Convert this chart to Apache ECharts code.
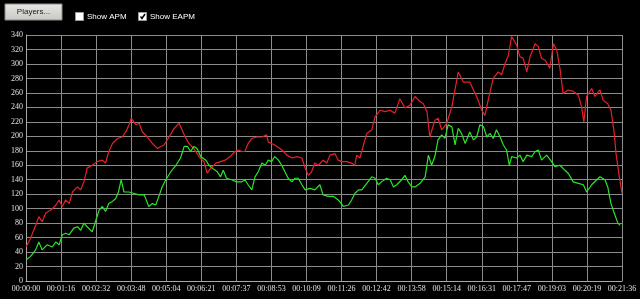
<!DOCTYPE html>
<html>
<head>
<meta charset="utf-8">
<script src="https://cdn.jsdelivr.net/npm/echarts@6/dist/echarts.min.js"></script>
<style>
html,body{margin:0;padding:0;background:#000;}
#chart{width:640px;height:299px;}
</style>
</head>
<body>
<div id="chart"></div>
<script>
// Tick labels of the time axis (17 equal intervals over 1296 s)
var timeLabels = ['00:00:00','00:01:16','00:02:32','00:03:48','00:05:04','00:06:21','00:07:37','00:08:53','00:10:09','00:11:26','00:12:42','00:13:58','00:15:14','00:16:31','00:17:47','00:19:03','00:20:19','00:21:36'];
var totalSeconds = 1296;

// Red series (APM): time in seconds and value
var apmTimes = [0,10,21,28,35,43,54,65,72,79,86,94,101,112,119,126,133,144,155,166,173,180,188,199,209,217,224,229,239,246,253,264,275,286,293,300,311,322,333,344,354,365,376,387,394,402,413,423,433,444,454,462,469,476,483,491,502,513,523,527,534,541,552,560,567,578,589,600,607,614,621,628,636,646,654,661,672,679,687,697,708,715,719,726,733,741,752,759,770,781,792,802,813,824,835,846,857,864,872,878,889,896,904,915,926,940,951,965,973,980,991,998,1005,1016,1027,1034,1042,1049,1056,1067,1074,1081,1089,1096,1107,1114,1121,1129,1139,1147,1154,1161,1168,1179,1190,1201,1208,1213,1219,1230,1237,1248,1255,1265,1272,1279,1283,1290,1296];
var apmValues = [47,59,77,89,82,94,98,105,112,103,112,107,123,130,126,137,156,160,165,167,163,179,190,197,199,206,216,225,216,218,206,199,190,183,186,188,199,211,218,202,190,183,172,165,149,156,163,165,167,172,179,181,179,179,190,197,199,199,202,192,190,188,183,179,174,170,172,170,156,146,151,163,160,167,163,174,176,167,165,165,163,160,174,170,186,204,209,227,236,234,236,232,252,239,243,255,248,245,234,199,222,225,209,218,241,289,275,275,264,255,236,229,250,280,289,285,301,312,338,326,310,308,289,310,328,324,308,305,294,328,319,294,259,264,262,257,241,220,255,266,255,264,250,245,236,205,176,145,121];

// Green series (EAPM): time in seconds and value
var eapmTimes = [0,10,21,28,35,46,57,65,72,79,86,94,104,112,119,126,133,144,152,159,166,173,180,188,195,201,207,213,224,235,246,257,267,275,282,289,296,304,315,326,336,344,351,358,365,372,380,391,398,405,416,423,429,436,447,458,469,476,483,491,498,505,513,520,527,534,541,549,556,563,570,578,585,592,600,607,618,628,639,646,657,668,679,690,701,708,715,723,730,741,752,759,766,773,784,792,799,806,817,824,831,839,846,857,868,875,882,889,896,904,911,918,926,933,940,947,955,965,973,980,987,995,1002,1009,1016,1023,1031,1038,1045,1051,1056,1067,1074,1081,1089,1100,1107,1114,1121,1132,1143,1150,1161,1172,1179,1190,1201,1212,1219,1230,1241,1248,1259,1265,1272,1279,1287,1292];
var eapmValues = [29,34,43,54,43,50,47,54,50,64,66,64,73,75,70,80,75,68,84,98,103,96,107,110,114,123,140,123,123,121,119,119,103,107,105,117,130,140,151,160,170,186,186,179,186,183,172,167,160,156,151,144,153,142,140,137,137,140,133,126,144,151,163,160,167,165,172,167,160,151,142,137,142,142,133,126,128,126,133,119,117,117,112,103,105,112,121,126,126,135,144,142,133,137,142,140,130,133,140,146,137,130,130,135,144,174,160,172,195,202,197,216,213,188,211,204,190,206,195,199,216,213,199,204,197,209,199,188,181,160,172,170,174,165,174,172,179,181,167,174,165,158,160,153,149,137,135,133,123,133,140,144,140,130,107,94,80,77];

// Y axis scale
var yMin = 0, yMax = 340, yStep = 20;

function pairs(t, v) {
  var out = [];
  for (var i = 0; i < t.length; i++) out.push([t[i], v[i]]);
  return out;
}

var step = totalSeconds / (timeLabels.length - 1);
var chart = echarts.init(document.getElementById('chart'), null, {renderer: 'canvas'});
var labelFont = 'Liberation Serif';
chart.setOption({
  backgroundColor: '#000000',
  animation: false,
  grid: {left: 26, right: 18, top: 35, bottom: 18, containLabel: false},
  xAxis: {
    type: 'value',
    min: 0,
    max: totalSeconds,
    interval: step,
    axisLine: {show: true, lineStyle: {color: '#a8a8a8', width: 1}},
    axisTick: {show: false},
    splitLine: {show: true, lineStyle: {color: '#8c8c8c', width: 1}},
    axisLabel: {
      color: '#e0e0e0', fontFamily: labelFont, fontSize: 8, margin: 4,
      showMinLabel: true, showMaxLabel: true,
      formatter: function (v) { return timeLabels[Math.round(v / step)] || ''; }
    }
  },
  yAxis: {
    type: 'value',
    min: yMin, max: yMax, interval: yStep,
    axisLine: {show: true, lineStyle: {color: '#a8a8a8', width: 1}},
    axisTick: {show: false},
    splitLine: {show: true, lineStyle: {color: '#8c8c8c', width: 1}},
    axisLabel: {color: '#e0e0e0', fontFamily: labelFont, fontSize: 8, margin: 3}
  },
  series: [
    {
      name: 'APM', type: 'line', data: pairs(apmTimes, apmValues),
      showSymbol: false, symbol: 'none',
      lineStyle: {color: '#e8202a', width: 1.2}
    },
    {
      name: 'EAPM', type: 'line', data: pairs(eapmTimes, eapmValues),
      showSymbol: false, symbol: 'none',
      lineStyle: {color: '#28e628', width: 1.2}
    }
  ],
  graphic: [
    {type: 'rect', shape: {x: 5, y: 4, width: 57, height: 16},
     style: {fill: {type: 'linear', x: 0, y: 0, x2: 0, y2: 1, colorStops: [{offset: 0, color: '#e6e6e2'}, {offset: 1, color: '#c8c8c4'}]}, stroke: '#8a8a8a', lineWidth: 1}},
    {type: 'text', x: 33.5, y: 12, style: {text: 'Players...', fill: '#1a1a1a', font: '8px "Liberation Sans"', align: 'center', verticalAlign: 'middle'}},
    {type: 'rect', shape: {x: 75.5, y: 12.5, width: 8, height: 8}, style: {fill: '#ffffff', stroke: '#9a9a9a', lineWidth: 1}},
    {type: 'text', x: 87, y: 17, style: {text: 'Show APM', fill: '#ffffff', font: '8px "Liberation Sans"', align: 'left', verticalAlign: 'middle'}},
    {type: 'rect', shape: {x: 138.5, y: 12.5, width: 8, height: 8}, style: {fill: '#ffffff', stroke: '#9a9a9a', lineWidth: 1}},
    {type: 'polyline', shape: {points: [[140.5, 16.5], [142, 18.5], [145, 14]]}, style: {stroke: '#000000', lineWidth: 1.5, fill: null}},
    {type: 'text', x: 150, y: 17, style: {text: 'Show EAPM', fill: '#ffffff', font: '8px "Liberation Sans"', align: 'left', verticalAlign: 'middle'}}
  ]
});
</script>
</body>
</html>
